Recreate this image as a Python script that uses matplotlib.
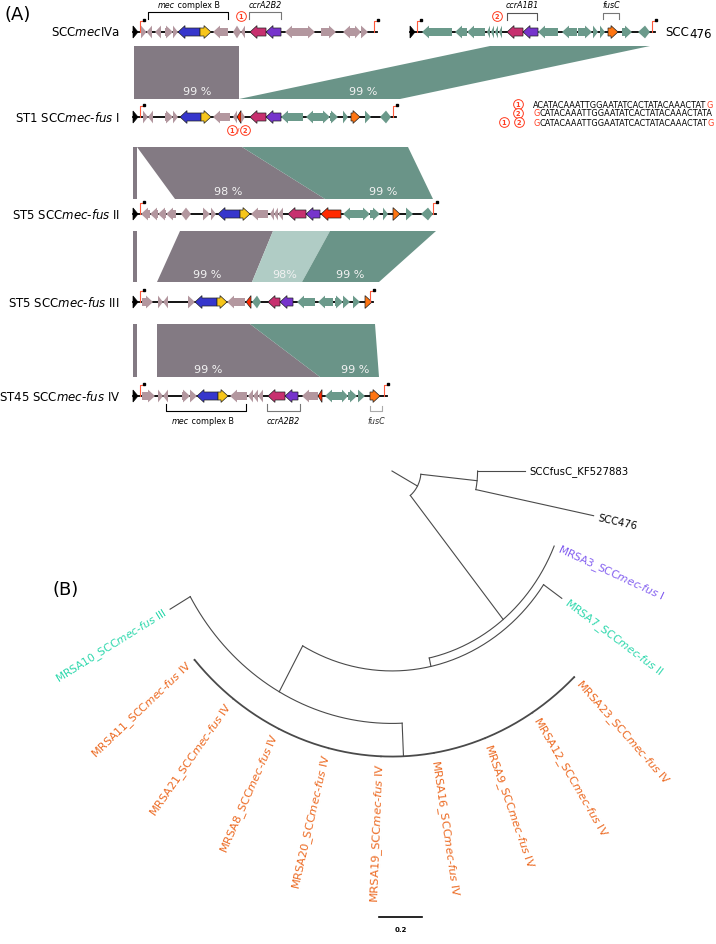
import numpy as np
import matplotlib.pyplot as plt
from matplotlib.patches import Polygon

W, H = 716, 945
fig = plt.figure(figsize=(W / 100, H / 100), dpi=100)

# ---------------- panel A data (gene maps, kb from left end) ----------------
gene_col = {'m': '#b3979f', 't': '#6b9a8b', 'b': '#3636cc', 'y': '#f7c61a',
            'g': '#c7306f', 'p': '#7634cc', 'r': '#ff2a00', 'o': '#ff7512'}
outlined = 'bygpro'

row_names = [r'SCC$\mathit{mec}$IVa', r'ST1 SCC$\mathit{mec}$-$\mathit{fus}$ I',
             r'ST5 SCC$\mathit{mec}$-$\mathit{fus}$ II', r'ST5 SCC$\mathit{mec}$-$\mathit{fus}$ III',
             r'ST45 SCC$\mathit{mec}$-$\mathit{fus}$ IV', 'SCC476']
row_start = [0, 0, 0, 0, 0, 27.7]
row_end = [24.4, 26.3, 30.3, 24.0, 25.4, 24.5]
row_y = [33, 118, 215, 303, 397, 33]

genes_ivA = [(0.8, 1.35, 1, 'm'), (1.35, 1.9, -1, 'm'), (2.2, 2.8, -1, 'm'), (3.2, 4.0, 1, 'm'),
             (4.0, 4.5, 1, 'm'), (4.5, 6.7, -1, 'b'), (6.7, 7.8, 1, 'y'), (8.0, 9.5, -1, 'm'),
             (10.0, 10.4, -1, 'm'), (10.4, 10.8, 1, 'm'), (10.8, 11.2, -1, 'm'), (11.7, 13.3, -1, 'g'),
             (13.3, 14.8, -1, 'p'), (15.2, 17.0, -1, 'm'), (17.0, 18.2, 1, 'm'), (18.8, 20.3, 1, 'm'),
             (21.0, 22.2, -1, 'm'), (22.2, 22.8, 1, 'm'), (22.8, 23.5, 1, 'm')]
genes_fus1 = [(1.0, 1.5, 1, 'm'), (1.5, 2.0, -1, 'm'), (3.2, 4.0, 1, 'm'), (4.0, 4.5, 1, 'm'),
              (4.7, 6.8, -1, 'b'), (6.8, 7.8, 1, 'y'), (8.0, 9.7, -1, 'm'), (10.0, 10.4, -1, 'm'),
              (10.4, 10.8, -1, 'r'), (10.8, 11.2, 1, 'm'), (11.7, 13.3, -1, 'g'), (13.3, 14.8, -1, 'p'),
              (14.8, 17.0, -1, 't'), (17.3, 19.0, -1, 't'), (19.0, 19.7, 1, 't'), (19.7, 20.5, 1, 't'),
              (21.0, 21.5, 1, 't'), (21.8, 22.7, 1, 'o'), (23.2, 23.8, 1, 't'), (24.7, 25.3, -1, 't'),
              (25.3, 25.8, 1, 't')]
genes_fus2 = [(0.8, 1.7, -1, 'm'), (1.7, 2.5, -1, 'm'), (2.5, 3.3, -1, 'm'), (3.3, 4.3, -1, 'm'),
              (4.8, 5.3, -1, 'm'), (5.3, 5.8, 1, 'm'), (7.0, 7.7, 1, 'm'), (7.8, 8.3, 1, 'm'),
              (8.5, 10.7, -1, 'b'), (10.7, 11.7, 1, 'y'), (11.8, 13.5, -1, 'm'), (13.7, 14.1, -1, 'm'),
              (14.1, 14.5, -1, 'm'), (14.5, 15.0, -1, 'm'), (15.5, 17.3, -1, 'g'), (17.3, 18.7, -1, 'p'),
              (18.8, 20.8, -1, 'r'), (21.0, 22.8, -1, 't'), (22.8, 23.7, 1, 't'), (23.7, 24.7, 1, 't'),
              (25.0, 25.5, 1, 't'), (26.0, 26.7, 1, 'o'), (27.3, 28.0, 1, 't'), (28.8, 29.5, -1, 't'),
              (29.5, 30.0, 1, 't')]
genes_fus3 = [(0.9, 2.0, 1, 'm'), (2.5, 3.0, 1, 'm'), (3.0, 3.5, -1, 'm'), (5.5, 6.2, 1, 'm'),
              (6.2, 8.4, -1, 'b'), (8.4, 9.4, 1, 'y'), (9.4, 11.2, -1, 'm'), (11.3, 11.8, -1, 'r'),
              (11.9, 12.4, -1, 't'), (12.4, 12.8, 1, 't'), (13.5, 14.7, -1, 'g'), (14.7, 16.0, -1, 'p'),
              (16.4, 18.2, -1, 't'), (18.5, 20.0, -1, 't'), (20.2, 21.0, 1, 't'), (21.0, 21.7, 1, 't'),
              (22.0, 22.7, 1, 't'), (23.2, 23.9, 1, 'o')]
genes_fus4 = [(0.9, 2.2, 1, 'm'), (2.5, 3.0, 1, 'm'), (3.0, 3.5, -1, 'm'), (4.9, 5.7, 1, 'm'),
              (5.7, 6.4, 1, 'm'), (6.4, 8.5, -1, 'b'), (8.5, 9.5, 1, 'y'), (9.7, 11.4, -1, 'm'),
              (11.5, 12.0, -1, 'm'), (12.0, 12.5, -1, 'm'), (12.5, 13.0, -1, 'm'), (13.5, 15.2, -1, 'g'),
              (15.2, 16.5, -1, 'p'), (16.9, 18.5, -1, 'm'), (18.5, 18.9, -1, 'r'), (19.2, 20.9, -1, 't'),
              (20.9, 21.5, 1, 't'), (21.5, 22.4, 1, 't'), (22.5, 23.2, 1, 't'), (23.7, 24.7, 1, 'o')]
genes_476 = [(1.2, 4.2, -1, 't'), (4.5, 5.7, -1, 't'), (5.7, 7.5, -1, 't'), (7.7, 8.0, -1, 't'),
             (8.1, 8.4, -1, 't'), (8.5, 8.8, -1, 't'), (8.9, 9.2, -1, 't'), (9.7, 11.3, -1, 'g'),
             (11.3, 12.8, -1, 'p'), (12.8, 14.8, -1, 't'), (15.2, 16.7, -1, 't'), (16.8, 18.2, 1, 't'),
             (18.3, 18.8, 1, 't'), (19.0, 19.5, 1, 't'), (19.8, 20.8, 1, 'o'), (21.2, 22.2, 1, 't'),
             (22.8, 23.5, -1, 't'), (23.5, 24.0, 1, 't')]
row_genes = [genes_ivA, genes_fus1, genes_fus2, genes_fus3, genes_fus4, genes_476]

# BLAST bands: (y_top, y_bottom, [(top_x1, top_x2, bot_x1, bot_x2, colour, label, label_x)])
band_grey, band_teal, band_light = '#837a83', '#6a9488', '#b0ccc5'
bands = [
    (47, 100, [(0.1, 10.6, 0.1, 10.6, band_grey, '99 %', 6.4),
               (35.7, 51.7, 10.6, 26.7, band_teal, '99 %', 23.0)]),
    (148, 200, [(0.0, 0.4, 0.0, 0.4, band_grey, '', 0),
                (0.4, 10.9, 4.2, 19.2, band_grey, '98 %', 9.5),
                (10.9, 27.5, 19.2, 30.0, band_teal, '99 %', 25.0)]),
    (232, 283, [(0.0, 0.4, 0.0, 0.4, band_grey, '', 0),
                (4.7, 14.0, 2.4, 11.9, band_grey, '99 %', 7.4),
                (14.0, 19.7, 11.9, 16.9, band_light, '98%', 15.2),
                (19.7, 30.3, 16.9, 24.6, band_teal, '99 %', 21.7)]),
    (325, 378, [(0.0, 0.4, 0.0, 0.4, band_grey, '', 0),
                (2.4, 11.7, 2.4, 18.7, band_grey, '99 %', 7.5),
                (11.7, 24.2, 18.7, 24.6, band_teal, '99 %', 22.2)]),
]

seq_lines = [['1'], ['2'], ['1', '2']]
seq_parts = [[('ACATACAAATTGGAATATCACTATACAAACTAT', 'k'), ('G', '#ff3b1f')],
             [('G', '#ff3b1f'), ('CATACAAATTGGAATATCACTATACAAACTATA', 'k')],
             [('G', '#ff3b1f'), ('CATACAAATTGGAATATCACTATACAAACTAT', 'k'), ('G', '#ff3b1f')]]

# ---------------- panel B data (polar tree: distance from root, angle in degrees) ----------------
leaf_step = 11.55
node_name = ['root', 'F', 'SCCfusC_KF527883', 'SCC476', 'A', 'MRSA3', 'B', 'MRSA7', 'N3',
             'MRSA10', 'N4', 'MRSA23', 'MRSA12', 'MRSA9', 'MRSA16', 'MRSA19', 'MRSA20',
             'MRSA8', 'MRSA21', 'MRSA11']
node_parent = [None, 'root', 'F', 'F', 'root', 'A', 'A', 'B', 'B',
               'N3', 'N3', 'N4', 'N4', 'N4', 'N4', 'N4', 'N4', 'N4', 'N4', 'N4']
node_r = [0.135, 0.398, 0.619, 0.957, 0.82, 0.82, 0.857, 0.96, 1.082,
          1.19, 1.224, 1.226, 1.226, 1.226, 1.226, 1.226, 1.226, 1.226, 1.226, 1.226]
leaf_order = ['SCCfusC_KF527883', 'SCC476', 'MRSA3', 'MRSA7', 'MRSA23', 'MRSA12', 'MRSA9',
              'MRSA16', 'MRSA19', 'MRSA20', 'MRSA8', 'MRSA21', 'MRSA11', 'MRSA10']
inner_theta = {'root': 28.6, 'F': 6.0, 'A': 50.9, 'B': 77.8, 'N3': 119.0, 'N4': 87.5}
leaf_type = {'MRSA3': 'I', 'MRSA7': 'II', 'MRSA10': 'III'}
type_col = {'I': '#8460f0', 'II': '#2fd8ad', 'III': '#2fd8ad', 'IV': '#ec6a22'}

# ---------------- panel A drawing ----------------
ax = fig.add_axes([0, 0, 1, 1])
ax.set_xlim(-13.3, 58.3)
ax.set_ylim(H, 0)
ax.axis('off')
rend = fig.canvas.get_renderer()


def gene(x1, x2, strand, y, c):
    L = x2 - x1
    hl = min(0.7, L)
    hh, bh = 6.4, 4.0
    if strand > 0:
        tip, base, tail = x2, x2 - hl, x1
    else:
        tip, base, tail = x1, x1 + hl, x2
    if hl >= L - 1e-9:
        pts = [(tail, y - hh), (tip, y), (tail, y + hh)]
    else:
        pts = [(tail, y - bh), (base, y - bh), (base, y - hh), (tip, y),
               (base, y + hh), (base, y + bh), (tail, y + bh)]
    ec = '#222222' if c in outlined else 'none'
    ax.add_patch(Polygon(pts, closed=True, fc=gene_col[c], ec=ec, lw=0.5, zorder=4))


def flag(x, y):
    ax.plot([x, x, x + 0.3], [y, y - 11, y - 11], color='#ff5a3c', lw=0.8, zorder=5)
    ax.plot(x + 0.35, y - 12, 's', color='k', ms=1.8, zorder=5)


def circ(x, y, num):
    ax.plot(x, y, 'o', ms=7, mfc='white', mec='#ff3b1f', mew=0.7, zorder=6)
    ax.text(x, y + 0.3, num, color='#ff3b1f', fontsize=4.8, fontweight='bold',
            ha='center', va='center', zorder=7)


def put_parts(x, y, parts, **kw):
    for s, c in parts:
        t = ax.text(x, y, s, color=c, **kw)
        bb = t.get_window_extent(renderer=rend)
        x = ax.transData.inverted().transform((bb.x1, bb.y0))[0]
    return x


for i in range(len(row_names)):
    x0, y = row_start[i], row_y[i]
    x1 = x0 + row_end[i]
    ax.plot([x0, x1], [y, y], color='k', lw=1.3, zorder=3)
    ax.add_patch(Polygon([(x0, y - 6), (x0 + 0.5, y), (x0, y + 6)], closed=True,
                         fc='k', ec='k', lw=0.5, zorder=4))
    flag(x0 + 0.7, y)
    flag(x1 - 0.3, y)
    for g in row_genes[i]:
        gene(x0 + g[0], x0 + g[1], g[2], y, g[3])
    if i < 5:
        ax.text(-1.3, y, row_names[i], fontsize=8.5, ha='right', va='center')

xe = put_parts(53.2, 33, [('SCC', 'k')], fontsize=8.5, ha='left', va='center')
ax.text(xe + 0.1, 35, '476', fontsize=8.5, ha='left', va='center')

for yt, yb, polys in bands:
    for tx1, tx2, bx1, bx2, col, lab, lx in polys:
        ax.add_patch(Polygon([(tx1, yt), (tx2, yt), (bx2, yb), (bx1, yb)], closed=True,
                             fc=col, ec='none', zorder=1))
        if lab:
            ax.text(lx, yb - 8, lab, color='#f2f2f2', fontsize=8, ha='center', va='center', zorder=2)

ax.text(-12.8, 15, '(A)', fontsize=13, ha='left', va='center')


def bracket(xa, xb, y, d, col, lw=0.8):
    ax.plot([xa, xa, xb, xb], [y + d, y, y, y + d], color=col, lw=lw, zorder=3)


def mec_label(xc, y, fs):
    t = ax.text(0, y, 'mec complex B', fontsize=fs, va='center')
    wbb = t.get_window_extent(renderer=rend)
    t.remove()
    wd = wbb.width / 10.0
    xe = put_parts(xc - wd / 2, y, [('mec', 'k')], fontsize=fs, style='italic', va='center')
    ax.text(xe, y, ' complex B', fontsize=fs, va='center')


# top brackets
bracket(1.5, 9.5, 13, 7, 'k')
mec_label(5.6, 6, 5.8)
bracket(11.6, 14.8, 13, 7, '#777777')
ax.text(13.2, 6, 'ccrA2B2', fontsize=5.8, style='italic', ha='center', va='center')
circ(10.8, 17, '1')
bracket(37.4, 40.4, 14, 7, '#555555')
ax.text(38.9, 6, 'ccrA1B1', fontsize=5.8, style='italic', ha='center', va='center')
circ(36.4, 17, '2')
bracket(47.0, 48.6, 14, 6, '#777777')
ax.text(47.8, 6, 'fusC', fontsize=5.8, style='italic', ha='center', va='center')
# ST1 junction marks
circ(9.9, 131, '1')
ax.text(10.55, 131, '/', fontsize=5, color='#ff3b1f', ha='center', va='center')
circ(11.2, 131, '2')
# bottom brackets
bracket(3.3, 11.3, 412, -7, 'k')
mec_label(7.0, 421, 5.8)
bracket(13.4, 16.7, 412, -7, '#777777')
ax.text(15.0, 421, 'ccrA2B2', fontsize=5.8, style='italic', ha='center', va='center')
bracket(23.7, 24.9, 412, -5, '#aaaaaa')
ax.text(24.3, 422, 'fusC', fontsize=5.8, style='italic', ha='center', va='center', color='#333333')

# junction sequences
for k in range(3):
    yy = 105 + 9 * k
    nums = seq_lines[k]
    if len(nums) == 1:
        circ(38.5, yy, nums[0])
    else:
        circ(37.1, yy, nums[0])
        circ(38.6, yy, nums[1])
    put_parts(40.0, yy, seq_parts[k], fontsize=5.9, va='center')

# ---------------- panel B drawing ----------------
cx, cy = 392, 472          # root position, px
kx, ky = 215.0, 233.3      # px per unit (panel is slightly stretched vertically)
tx = fig.add_axes([0, 0, 1, 1])
tx.set_xlim(-cx / kx, (W - cx) / kx)
tx.set_ylim(-(H - cy) / ky, cy / ky)
tx.axis('off')
tx.patch.set_visible(False)

r_of = dict(zip(node_name, node_r))
t_of = dict(inner_theta)
for i, n in enumerate(leaf_order):
    t_of[n] = i * leaf_step
line_col = '#4a4a4a'


def pol(r, th):
    a = np.deg2rad(th)
    return r * np.cos(a), -r * np.sin(a)


for n, p in zip(node_name, node_parent):
    r0 = r_of[p] if p else 0.0
    xa, ya = pol(r0, t_of[n])
    xb, yb = pol(r_of[n], t_of[n])
    tx.plot([xa, xb], [ya, yb], color=line_col, lw=0.8)
    kids = [c for c, q in zip(node_name, node_parent) if q == n]
    if kids:
        angs = [t_of[c] for c in kids] + [t_of[n]]
        th = np.linspace(min(angs), max(angs), 160)
        xs, ys = pol(r_of[n], th)
        tx.plot(xs, ys, color=line_col, lw=0.8 if n != 'N4' else 1.3)
    else:
        th = t_of[n]
        lx, ly = pol(r_of[n] + 0.022, th)
        if n.startswith('MRSA'):
            typ = leaf_type.get(n, 'IV')
            lab = n + r'_SCC$\mathit{mec}$-$\mathit{fus}$ ' + typ
            col = type_col[typ]
            fs0 = 7.6
        else:
            lab, col = n, 'k'
            fs0 = 7.3
        a = np.deg2rad(th)
        phi = np.degrees(np.arctan2(ky * np.sin(a), kx * np.cos(a)))
        stretch = np.hypot(np.cos(np.deg2rad(phi)), (ky / kx) * np.sin(np.deg2rad(phi)))
        if phi <= 90:
            rot, ha = -phi, 'left'
        else:
            rot, ha = 180 - phi, 'right'
        tx.text(lx, ly, lab, color=col, fontsize=fs0 * stretch, rotation=rot,
                rotation_mode='anchor', ha=ha, va='center')

# scale bar (0.2 substitutions per site)
sb_x0 = -0.06
tx.plot([sb_x0, sb_x0 + 0.2], [-1.91, -1.91], color='k', lw=1.2)
tx.text(sb_x0 + 0.1, -1.965, '0.2', fontsize=5, fontweight='bold', ha='center', va='center')
tx.text((52 - cx) / kx, (cy - 590) / ky, '(B)', fontsize=13, ha='left', va='center')

fig.savefig('out.png', dpi=100)
